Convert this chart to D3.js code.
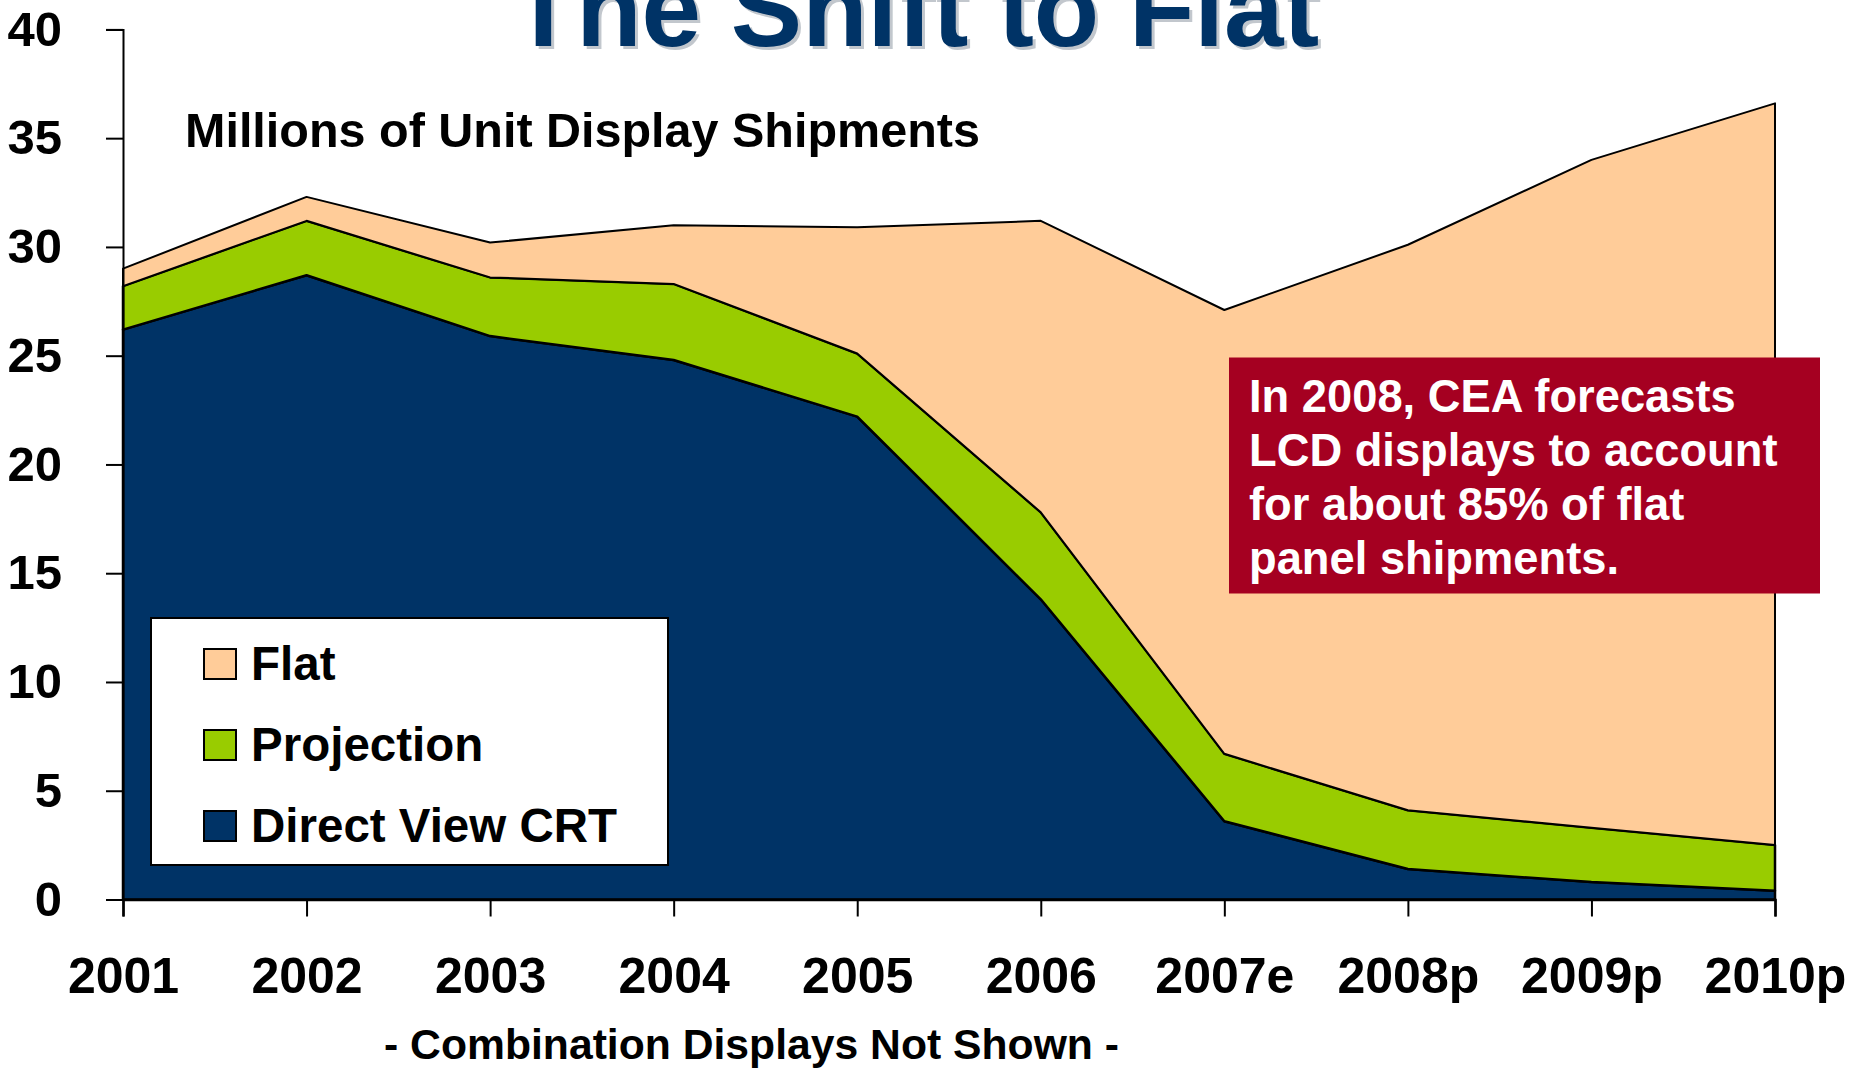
<!DOCTYPE html>
<html>
<head>
<meta charset="utf-8">
<script src="https://cdnjs.cloudflare.com/ajax/libs/d3/7.8.5/d3.min.js"></script>
<style>
	body { margin: 0; background: #fff; }
	text { font-family: "Liberation Sans", Arial, sans-serif; font-weight: bold; }
</style>
</head>
<body>
<div id="chartcontainer"></div>
<script>
// *****************************************************************************
// Data (millions of units)
// *****************************************************************************
var years = ["2001", "2002", "2003", "2004", "2005", "2006", "2007e", "2008p", "2009p", "2010p"];
var crt = [26.2, 28.7, 25.9, 24.8, 22.2, 13.8, 3.6, 1.4, 0.8, 0.4];
var projection = [2.0, 2.5, 2.7, 3.5, 2.9, 4.0, 3.1, 2.7, 2.5, 2.1];
var flat = [0.8, 1.1, 1.6, 2.7, 5.8, 13.4, 20.4, 26.0, 30.7, 34.1];
var yTicks = [0, 5, 10, 15, 20, 25, 30, 35, 40];
var seriesNames = ["Direct View CRT", "Projection", "Flat"];
var seriesColors = ["#003366", "#99CC00", "#FFCC99"];
var legendOrder = ["Flat", "Projection", "Direct View CRT"];
var titleText = "The Shift to Flat";
var subtitleText = "Millions of Unit Display Shipments";
var footText = "- Combination Displays Not Shown -";
var noteLines = ["In 2008, CEA forecasts", "LCD displays to account", "for about 85% of flat", "panel shipments."];

var w = 1851, h = 1072;

var svg = d3.select("#chartcontainer")
			.append("svg")
			.attr("width", w)
			.attr("height", h);

// build rows for the stack
var dataset = years.map(function(y, i) {
	return { year: y, "Direct View CRT": crt[i], "Projection": projection[i], "Flat": flat[i] };
});

var xScale = d3.scalePoint()
			.domain(years)
			.range([123, 1775]);

var yScale = d3.scaleLinear()
			.domain([0, 40])
			.range([899.5, 29.4]);

var stack = d3.stack().keys(seriesNames);
var layers = stack(dataset);

var area = d3.area()
		.x(function(d) { return xScale(d.data.year); })
		.y0(function(d) { return yScale(d[0]); })
		.y1(function(d) { return yScale(d[1]); });

// *****************************************************************************
// Stacked areas
// *****************************************************************************
svg.selectAll("path.layer")
	.data(layers)
	.enter()
	.append("path")
	.attr("class", "layer")
	.attr("d", area)
	.attr("fill", function(d, i) { return seriesColors[i]; })
	.attr("stroke", "#000")
	.attr("stroke-width", function(d, i) { return i == 2 ? 2 : 2.5; })
	.attr("stroke-linejoin", "round");

// *****************************************************************************
// Axes
// *****************************************************************************
var yAxis = d3.axisLeft(yScale)
		.tickValues(yTicks)
		.tickSize(17)
		.tickPadding(44)
		.tickFormat(d3.format("d"));

var gy = svg.append("g")
	.attr("transform", "translate(123,0)")
	.call(yAxis);

var xAxis = d3.axisBottom(xScale)
		.tickSize(17)
		.tickPadding(0);

var gx = svg.append("g")
	.attr("transform", "translate(0,899.5)")
	.call(xAxis);

gy.select(".domain").attr("stroke", "#000").attr("stroke-width", 2);
gx.select(".domain").attr("stroke", "#000").attr("stroke-width", 2.5);
svg.selectAll(".tick line").attr("stroke", "#000").attr("stroke-width", 2);

gy.selectAll(".tick text")
	.attr("font-size", 49)
	.attr("fill", "#000")
	.attr("font-family", null);

gx.selectAll(".tick text")
	.attr("font-size", 50)
	.attr("fill", "#000")
	.attr("font-family", null)
	.attr("y", 93)
	.attr("dy", null);

// *****************************************************************************
// Legend
// *****************************************************************************
svg.append("rect")
	.attr("x", 151)
	.attr("y", 618)
	.attr("width", 517)
	.attr("height", 247)
	.attr("fill", "#fff")
	.attr("stroke", "#000")
	.attr("stroke-width", 2);

var leg = svg.selectAll("g.leg")
	.data(legendOrder)
	.enter()
	.append("g")
	.attr("class", "leg")
	.attr("transform", function(d, i) { return "translate(204," + (680 + i * 81) + ")"; });

leg.append("rect")
	.attr("x", 0)
	.attr("y", -31)
	.attr("width", 32)
	.attr("height", 30)
	.attr("fill", function(d) { return seriesColors[seriesNames.indexOf(d)]; })
	.attr("stroke", "#000")
	.attr("stroke-width", 2);

leg.append("text")
	.attr("x", 47)
	.attr("y", 0)
	.attr("font-size", 47.5)
	.attr("fill", "#000")
	.text(function(d) { return d; });

// *****************************************************************************
// Callout box
// *****************************************************************************
svg.append("rect")
	.attr("x", 1229)
	.attr("y", 357.5)
	.attr("width", 591)
	.attr("height", 236)
	.attr("fill", "#A50021");

svg.selectAll("text.note")
	.data(noteLines)
	.enter()
	.append("text")
	.attr("class", "note")
	.attr("x", 1249)
	.attr("y", function(d, i) { return 412 + i * 54; })
	.attr("font-size", 45.3)
	.attr("fill", "#fff")
	.text(function(d) { return d; });

// *****************************************************************************
// Titles
// *****************************************************************************
svg.append("text")
	.attr("x", 918)
	.attr("y", 49)
	.attr("text-anchor", "middle")
	.attr("font-size", 107)
	.attr("fill", "#9aa3ad")
	.attr("opacity", 0.6)
	.text(titleText);

svg.append("text")
	.attr("x", 915)
	.attr("y", 46)
	.attr("text-anchor", "middle")
	.attr("font-size", 107)
	.attr("fill", "#003366")
	.text(titleText);

svg.append("text")
	.attr("x", 185)
	.attr("y", 147)
	.attr("font-size", 48.5)
	.attr("fill", "#000")
	.text(subtitleText);

svg.append("text")
	.attr("x", 384)
	.attr("y", 1059)
	.attr("font-size", 43)
	.attr("textLength", 735)
	.attr("lengthAdjust", "spacingAndGlyphs")
	.attr("fill", "#000")
	.text(footText);
</script>
</body>
</html>
